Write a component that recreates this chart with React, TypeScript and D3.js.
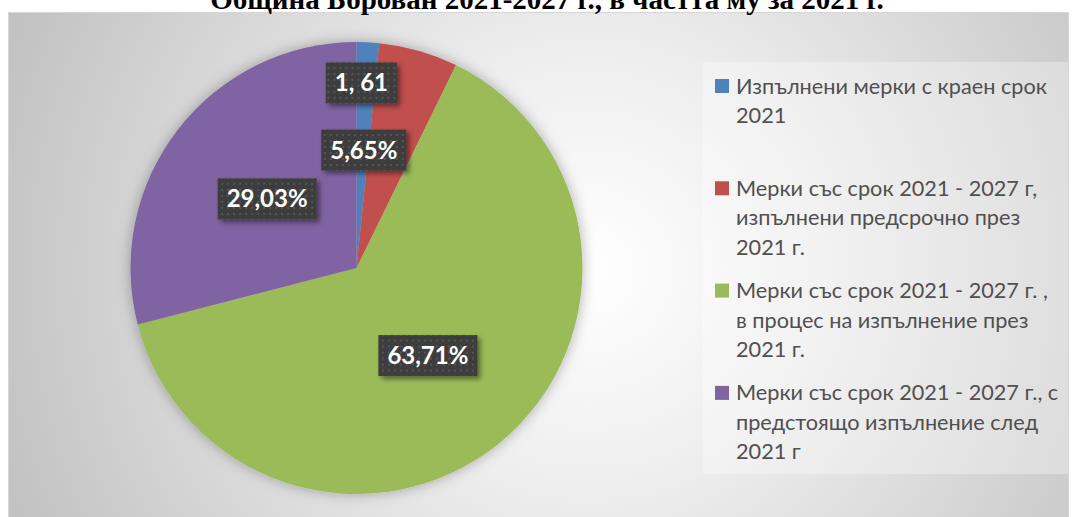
import React, { useEffect, useRef } from "react";
import * as d3 from "d3";

const titleText = "Община Борован 2021-2027 г., в частта му за 2021 г.";
const categories: string[][] = [
  ["Изпълнени мерки с краен срок", "2021"],
  ["Мерки със срок 2021 - 2027 г,", "изпълнени предсрочно през", "2021 г."],
  ["Мерки със срок 2021 - 2027 г. ,", "в процес на изпълнение през", "2021 г."],
  ["Мерки със срок 2021 - 2027 г., с", "предстоящо изпълнение след", "2021 г"],
];
const values = [1.61, 5.65, 63.71, 29.03];
const valueLabels = ["1, 61", "5,65%", "63,71%", "29,03%"];
const colors = ["#4f81bd", "#c0504d", "#9bbb59", "#8064a2"];
// label placement: [radius fraction, dx, dy]
const labelPlacement: [number, number, number][] = [
  [0.82, -4.5, 0],
  [0.52, -25, -5],
  [0.5, 0, 0],
  [0.5, 0, 0],
];

const W = 1072;
const H = 517;

export default function App() {
  const ref = useRef<SVGSVGElement | null>(null);

  useEffect(() => {
    const svg = d3.select(ref.current);
    svg.selectAll("*").remove();

    const defs = svg.append("defs");
    const bg = defs
      .append("radialGradient")
      .attr("id", "bg")
      .attr("gradientUnits", "userSpaceOnUse")
      .attr("cx", 590)
      .attr("cy", 270)
      .attr("r", 620);
    bg.append("stop").attr("offset", 0).attr("stop-color", "#ffffff");
    bg.append("stop").attr("offset", 0.35).attr("stop-color", "#eeeeee");
    bg.append("stop").attr("offset", 1).attr("stop-color", "#c2c2c2");

    const pieShadow = defs
      .append("filter")
      .attr("id", "pieShadow")
      .attr("x", "-20%")
      .attr("y", "-20%")
      .attr("width", "140%")
      .attr("height", "140%");
    pieShadow
      .append("feDropShadow")
      .attr("dx", 0)
      .attr("dy", 0)
      .attr("stdDeviation", 7)
      .attr("flood-color", "#000")
      .attr("flood-opacity", 0.3);

    const boxShadow = defs
      .append("filter")
      .attr("id", "boxShadow")
      .attr("x", "-30%")
      .attr("y", "-30%")
      .attr("width", "160%")
      .attr("height", "160%");
    boxShadow
      .append("feDropShadow")
      .attr("dx", 3)
      .attr("dy", 3)
      .attr("stdDeviation", 2.5)
      .attr("flood-color", "#000")
      .attr("flood-opacity", 0.45);

    const pat = defs
      .append("pattern")
      .attr("id", "dots")
      .attr("patternUnits", "userSpaceOnUse")
      .attr("width", 6)
      .attr("height", 6);
    pat.append("rect").attr("width", 6).attr("height", 6).attr("fill", "#3d3d3d");
    pat
      .append("rect")
      .attr("x", 2)
      .attr("y", 2)
      .attr("width", 2)
      .attr("height", 2)
      .attr("fill", "#555555");

    // chart area
    svg
      .append("rect")
      .attr("x", 8.5)
      .attr("y", 12.5)
      .attr("width", 1060)
      .attr("height", 512)
      .attr("fill", "url(#bg)")
      .attr("stroke", "#d6d6d6");

    // title (cut off at the top, as in the reference)
    svg
      .append("text")
      .attr("x", 547)
      .attr("y", 9)
      .attr("text-anchor", "middle")
      .attr("font-family", "'Liberation Serif', 'Times New Roman', serif")
      .attr("font-weight", "bold")
      .attr("font-size", 29)
      .attr("fill", "#000")
      .text(titleText);

    // legend panel
    svg
      .append("rect")
      .attr("x", 703)
      .attr("y", 62)
      .attr("width", 365)
      .attr("height", 412)
      .attr("fill", "#ffffff")
      .attr("fill-opacity", 0.3);

    const cx = 356.5;
    const cy = 268;
    const R = 226;

    const pie = d3
      .pie<number>()
      .sort(null)
      .startAngle(0)
      .endAngle(2 * Math.PI)
      .value((d) => d);
    const arcs = pie(values);
    const arc = d3.arc<d3.PieArcDatum<number>>().innerRadius(0).outerRadius(R);

    const g = svg.append("g").attr("transform", `translate(${cx},${cy})`);
    g.append("g")
      .attr("filter", "url(#pieShadow)")
      .selectAll("path")
      .data(arcs)
      .join("path")
      .attr("d", arc)
      .attr("fill", (_, i) => colors[i]);

    // labels
    arcs.forEach((a, i) => {
      const [frac, dx, dy] = labelPlacement[i];
      const la = d3.arc<d3.PieArcDatum<number>>().innerRadius(R * frac).outerRadius(R * frac);
      const [x, y] = la.centroid(a);
      const lg = g.append("g").attr("transform", `translate(${x + dx},${y + dy})`);
      const rect = lg.append("rect").attr("fill", "url(#dots)").attr("filter", "url(#boxShadow)");
      const t = lg
        .append("text")
        .attr("text-anchor", "middle")
        .attr("y", 8.5)
        .attr("font-family", "Lato, 'Open Sans', sans-serif")
        .attr("font-weight", "bold")
        .attr("font-size", 24)
        .attr("fill", "#ffffff")
        .text(valueLabels[i]);
      const w = (t.node() as SVGTextElement).getComputedTextLength() + 18;
      rect
        .attr("x", -w / 2)
        .attr("y", -20.5)
        .attr("width", w)
        .attr("height", 41);
    });

    // legend
    const legend = svg.append("g");
    const firstLine = 86;
    const itemStep = 102.3;
    const lineStep = 29.5;
    categories.forEach((lines, i) => {
      const y0 = firstLine + i * itemStep;
      legend
        .append("rect")
        .attr("x", 715)
        .attr("y", y0 - 7)
        .attr("width", 14)
        .attr("height", 14)
        .attr("fill", colors[i]);
      lines.forEach((ln, j) => {
        legend
          .append("text")
          .attr("x", 736)
          .attr("y", y0 + j * lineStep + 7.5)
          .attr("font-family", "Lato, 'Open Sans', sans-serif")
          .attr("font-size", 21.7)
          .attr("fill", "#505050")
          .text(ln);
      });
    });
  }, []);

  return (
    <svg
      ref={ref}
      width={W}
      height={H}
      style={{ position: "absolute", left: 0, top: 0, display: "block" }}
    />
  );
}
